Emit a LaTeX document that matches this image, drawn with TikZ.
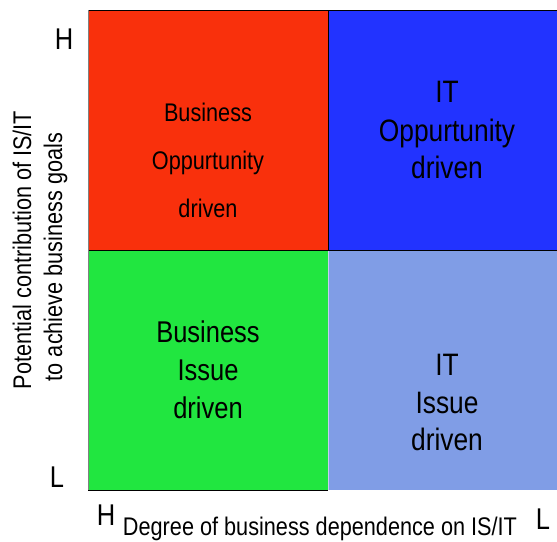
\documentclass[tikz,border=0pt]{standalone}
\usepackage{fontspec}
\setmainfont{Liberation Sans}[FakeStretch=0.85]
\definecolor{qred}{RGB}{249,48,12}
\definecolor{qblue}{RGB}{34,51,255}
\definecolor{qgreen}{RGB}{33,230,64}
\definecolor{qlight}{RGB}{128,157,230}
\definecolor{qedge}{RGB}{200,205,240}
\tikzset{
  lbl/.style={inner sep=0pt, anchor=base},
  big/.style={lbl, font=\fontsize{31}{37}\selectfont},
  mid/.style={lbl, font=\fontsize{30}{36}\selectfont},
  small/.style={lbl, font=\fontsize{25.5}{30}\selectfont},
  axis/.style={lbl, font=\fontsize{25.5}{30}\selectfont},
  tick/.style={lbl, font=\fontsize{30}{36}\selectfont},
  border/.style={draw=black, line width=1pt},
}
\begin{document}
\begin{tikzpicture}[x=1pt,y=-1pt]
\useasboundingbox (0,0) rectangle (557,541);
% quadrants
\fill[qred]   (88,10)  rectangle (328,250);
\fill[qblue]  (328,10) rectangle (558,250);
\fill[qgreen] (88,250) rectangle (328,490);
\fill[qlight] (328,250) rectangle (558,490);
\draw[qedge, line width=1pt] (328.5,250) -- (328.5,490);
\draw[border] (88,10) -- (558,10);
\draw[border] (88,250) -- (558,250);
\draw[border] (328,10) -- (328,250);
\draw[border] (88,490) -- (328,490);
\draw[gray, line width=1pt] (88,10) -- (88,490);
% red quadrant
\node[small] (r1) at (208,121) {Business};
\node[small] (r2) at (208,169) {Oppurtunity};
\node[small] (r3) at (208,217) {driven};
% blue quadrant
\node[big] (b1) at (447,102) {IT};
\node[big] (b2) at (447,141) {Oppurtunity};
\node[big] (b3) at (447,178) {driven};
% green quadrant
\node[mid] (g1) at (208,342) {Business};
\node[mid] (g2) at (208,380) {Issue};
\node[mid] (g3) at (208,418) {driven};
% light blue quadrant
\node[big] (l1) at (447,375) {IT};
\node[big] (l2) at (447,413) {Issue};
\node[big] (l3) at (447,450) {driven};
% ticks
\node[tick] (hy) at (64,49) {H};
\node[tick] (ly) at (57,487) {L};
\node[tick] (hx) at (106,525) {H};
\node[tick] (lx) at (543,529) {L};
% axis labels
\node[axis] (xl) at (320,535) {Degree of business dependence on IS/IT};
\node[axis, rotate=90] (yl1) at (31,250) {Potential contribution of IS/IT};
\node[axis, rotate=90] (yl2) at (62,257) {to achieve business goals};
\end{tikzpicture}
\end{document}
